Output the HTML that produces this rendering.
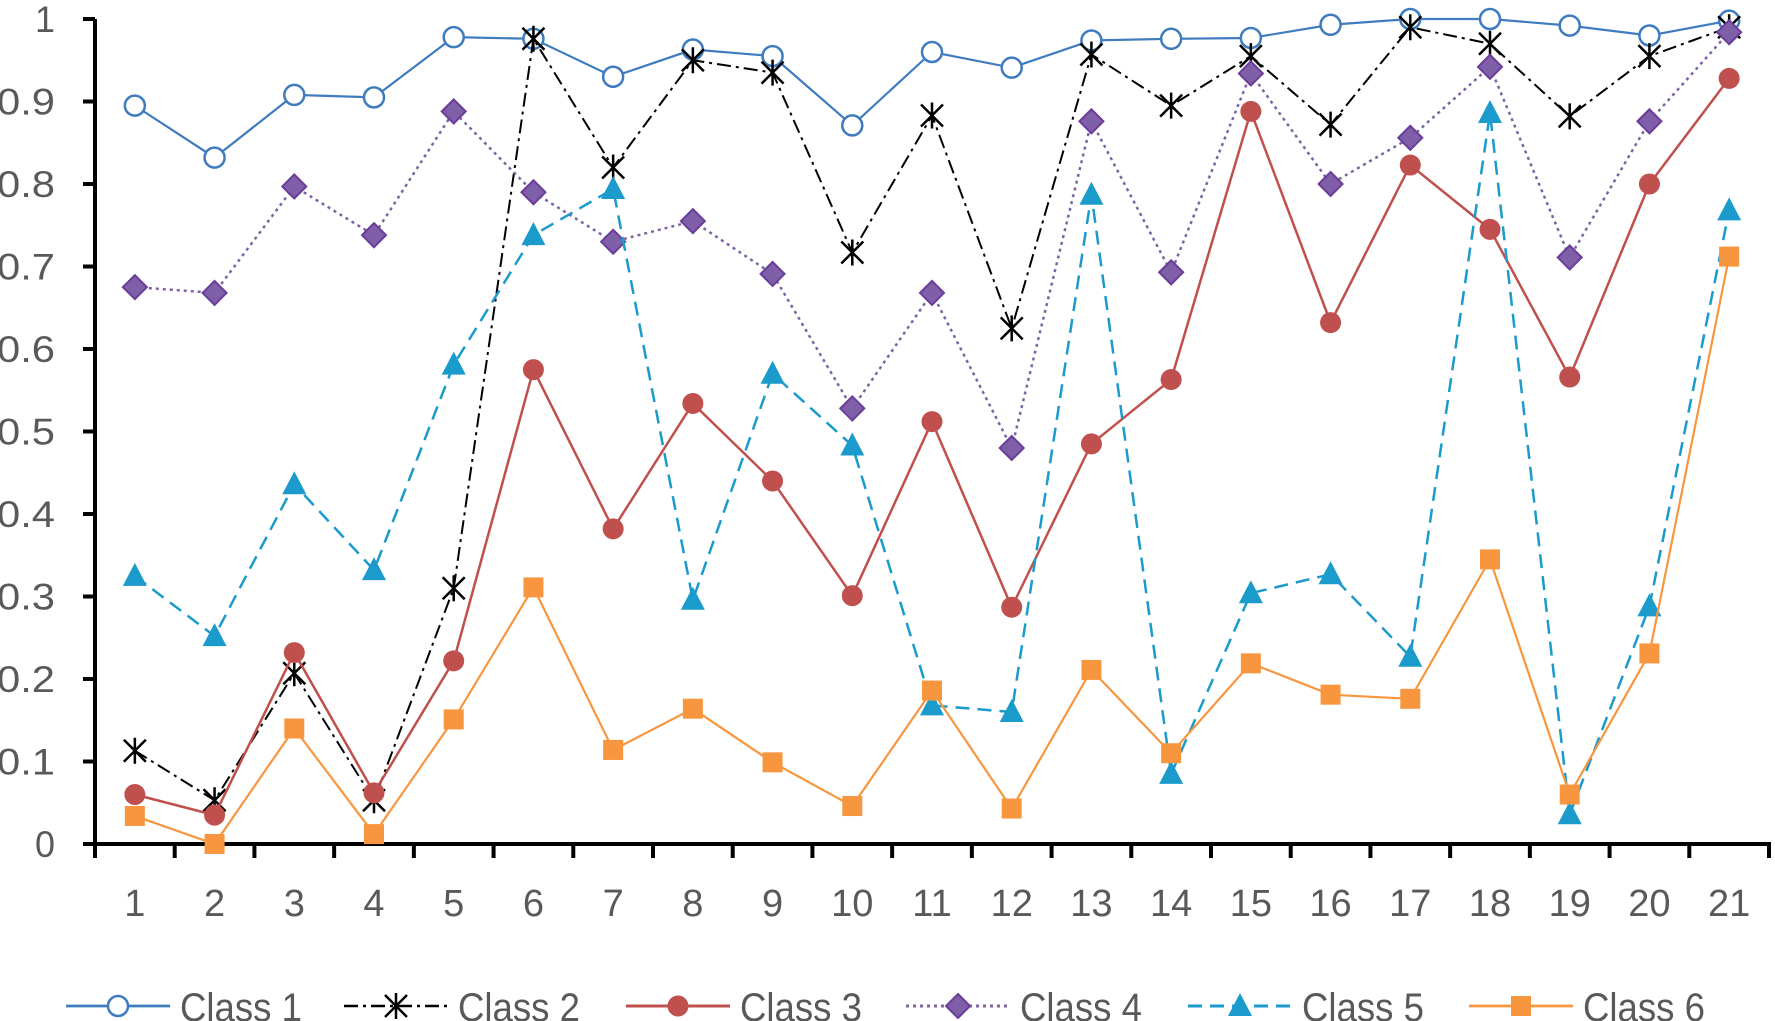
<!DOCTYPE html>
<html><head><meta charset="utf-8"><style>
html,body{margin:0;padding:0;background:#fff;}
svg{display:block;font-family:"Liberation Sans",sans-serif;}
</style></head><body>
<svg id="chart" width="1775" height="1021" viewBox="0 0 1775 1021" xmlns="http://www.w3.org/2000/svg"></svg>
<script>
const categories=["1","2","3","4","5","6","7","8","9","10","11","12","13","14","15","16","17","18","19","20","21"];
const yTicks=[0,0.1,0.2,0.3,0.4,0.5,0.6,0.7,0.8,0.9,1];
const yTickLabels=["0","0.1","0.2","0.3","0.4","0.5","0.6","0.7","0.8","0.9","1"];
const class1=[.895,.832,.908,.905,.978,.976,.930,.963,.955,.871,.960,.941,.974,.976,.977,.993,1,1,.992,.980,.998];
const class2=[.113,.053,.207,.053,.31,.976,.82,.95,.935,.717,.883,.625,.957,.895,.955,.872,.99,.97,.882,.955,.99];
const class3=[.06,.035,.232,.062,.222,.575,.382,.534,.44,.301,.512,.287,.485,.563,.888,.632,.823,.745,.566,.8,.928];
const class4=[.675,.668,.797,.738,.888,.79,.73,.755,.691,.528,.668,.48,.876,.693,.934,.8,.856,.942,.711,.876,.984];
const class5=[.325,.252,.436,.332,.581,.738,.794,.296,.57,.483,.168,.16,.787,.085,.304,.327,.227,.886,.036,.288,.768];
const class6=[.034,0,.14,.012,.151,.311,.114,.164,.099,.046,.186,.043,.211,.11,.219,.181,.176,.345,.06,.231,.712];
const seriesNames=["Class 1","Class 2","Class 3","Class 4","Class 5","Class 6"];

const NS="http://www.w3.org/2000/svg";
const svg=document.getElementById('chart');
const X0=95,X1=1769,Y0=844,Y1=19;
const bw=(X1-X0)/categories.length;
const xs=i=>X0+bw*(i+0.5);
const ys=v=>Y0-(Y0-Y1)*v;
function el(t,a,p){const e=document.createElementNS(NS,t);for(const k in a)e.setAttribute(k,a[k]);(p||svg).appendChild(e);return e;}

const yAxis=el('line',{x1:X0,y1:Y1,x2:X0,y2:Y0+2,stroke:'#000','stroke-width':4});


yTicks.forEach((t,i)=>{
  el('line',{x1:X0-12,y1:ys(t),x2:X0,y2:ys(t),stroke:'#000','stroke-width':4});
  const tx=el('text',{x:55,y:ys(t)+13,'text-anchor':'end','font-size':37,fill:'#595959',textLength:(yTickLabels[i].length>1?58:20),lengthAdjust:'spacingAndGlyphs'});
  tx.textContent=yTickLabels[i];
  
  
});
const xAxis=el('line',{x1:X0-12,y1:Y0,x2:X1+2,y2:Y0,stroke:'#000','stroke-width':4});


for(let i=0;i<=categories.length;i++){el('line',{x1:X0+bw*i,y1:Y0,x2:X0+bw*i,y2:Y0+14,stroke:'#000','stroke-width':4});}
categories.forEach((c,i)=>{
  const tx=el('text',{x:xs(i),y:916,'text-anchor':'middle','font-size':38,fill:'#595959'});
  tx.textContent=c;
  
  
});

const styles=[
 {c:'#3f7bbf',dash:'',w:2.2,m:'circle'},
 {c:'#000',dash:'14 5 3 5',w:2,m:'star'},
 {c:'#c0504d',dash:'',w:2.5,m:'dot'},
 {c:'#7f64a2',dash:'3 4',w:2.5,m:'diamond'},
 {c:'#1b9bcb',dash:'14 8',w:2.5,m:'tri'},
 {c:'#f7963e',dash:'',w:2.2,m:'square'}
];
function marker(g,m,x,y,c){
  let e;
  if(m==='circle')e=el('circle',{cx:x,cy:y,r:10,fill:'#fff',stroke:c,'stroke-width':2.5},g);
  else if(m==='dot')e=el('circle',{cx:x,cy:y,r:10.5,fill:c},g);
  else if(m==='diamond')e=el('polygon',{points:`${x},${y-12} ${x+12},${y} ${x},${y+12} ${x-12},${y}`,fill:'#7f5fa8',stroke:'#6a3d9a','stroke-width':2},g);
  else if(m==='tri')e=el('polygon',{points:`${x},${y-13} ${x+12},${y+10} ${x-12},${y+10}`,fill:c},g);
  else if(m==='square')e=el('rect',{x:x-10,y:y-10,width:20,height:20,fill:c},g);
  else{e=el('path',{d:`M${x-11},${y-11}L${x+11},${y+11}M${x-11},${y+11}L${x+11},${y-11}M${x},${y-13}L${x},${y+13}`,stroke:c,'stroke-width':2.5,fill:'none'},g);}
  
  
}
const allData=[class1,class2,class3,class4,class5,class6];
allData.forEach((d,s)=>{
  const st=styles[s];
  const g=el('g',{});
  
  
  const pts=d.map((v,i)=>xs(i)+','+ys(v)).join(' ');
  const pl=el('polyline',{points:pts,fill:'none',stroke:st.c,'stroke-width':st.w,'stroke-dasharray':st.dash},g);
  
  
  d.forEach((v,i)=>marker(g,st.m,xs(i),ys(v),st.c));
});

const lx=[66,344,626,906,1188,1469];
seriesNames.forEach((n,s)=>{
  const st=styles[s];
  const g=el('g',{});
  
  
  const ly=1006;
  el('line',{x1:lx[s],y1:ly,x2:lx[s]+104,y2:ly,stroke:st.c,'stroke-width':st.w+0.5,'stroke-dasharray':st.dash},g);
  marker(g,st.m,lx[s]+52,ly,st.c);
  const t=el('text',{x:lx[s]+114,y:ly+15,'font-size':40,fill:'#595959',textLength:122,lengthAdjust:'spacingAndGlyphs'},g);
  t.textContent=n;
});
</script>
</body></html>
